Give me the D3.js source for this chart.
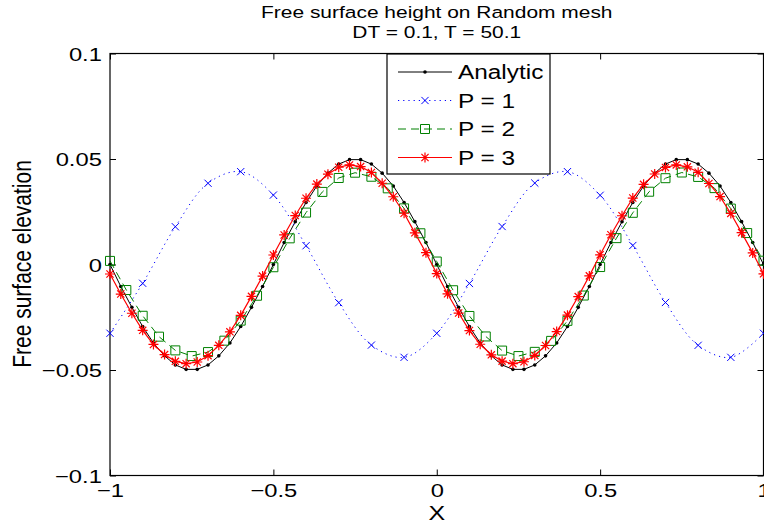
<!DOCTYPE html>
<html>
<head>
<meta charset="utf-8">
<script src="https://cdn.jsdelivr.net/npm/d3@7"></script>
<style>
  body { margin: 0; background: #fff; }
  text { font-family: "Liberation Sans", Arial, Helvetica, sans-serif; fill: #000; }
</style>
</head>
<body>
<div id="chart"></div>
<script>
// mesh points and values
var xAnalytic = [-1, -0.967, -0.933, -0.9, -0.867, -0.833, -0.8, -0.767, -0.733, -0.7,
    -0.667, -0.633, -0.6, -0.567, -0.533, -0.5, -0.467, -0.433, -0.4, -0.367,
    -0.333, -0.3, -0.267, -0.233, -0.2, -0.167, -0.133, -0.1, -0.067, -0.033,
    0, 0.033, 0.067, 0.1, 0.133, 0.167, 0.2, 0.233, 0.267, 0.3,
    0.333, 0.367, 0.4, 0.433, 0.467, 0.5, 0.533, 0.567, 0.6, 0.633,
    0.667, 0.7, 0.733, 0.767, 0.8, 0.833, 0.867, 0.9, 0.933, 0.967, 1];
var yAnalytic = [0, -0.0104, -0.0203, -0.0294, -0.0372, -0.0433, -0.0476, -0.0497, -0.0497, -0.0476,
    -0.0433, -0.0372, -0.0294, -0.0203, -0.0104, 0, 0.0104, 0.0203, 0.0294, 0.0372,
    0.0433, 0.0476, 0.0497, 0.0497, 0.0476, 0.0433, 0.0372, 0.0294, 0.0203, 0.0104,
    0, -0.0104, -0.0203, -0.0294, -0.0372, -0.0433, -0.0476, -0.0497, -0.0497, -0.0476,
    -0.0433, -0.0372, -0.0294, -0.0203, -0.0104, 0, 0.0104, 0.0203, 0.0294, 0.0372,
    0.0433, 0.0476, 0.0497, 0.0497, 0.0476, 0.0433, 0.0372, 0.0294, 0.0203, 0.0104, 0];

var xP1 = [-1, -0.9, -0.8, -0.7, -0.6, -0.5, -0.4, -0.3, -0.2, -0.1,
    0, 0.1, 0.2, 0.3, 0.4, 0.5, 0.6, 0.7, 0.8, 0.9, 1];
var yP1 = [-0.0326, -0.0089, 0.0179, 0.0385, 0.0440, 0.0329, 0.0089, -0.0181, -0.0382, -0.0440,
    -0.0326, -0.0090, 0.0180, 0.0386, 0.0440, 0.0328, 0.0090, -0.0180, -0.0383, -0.0440, -0.0326];

var xP2 = [-1, -0.95, -0.9, -0.85, -0.8, -0.75, -0.7, -0.65, -0.6, -0.55,
    -0.5, -0.45, -0.4, -0.35, -0.3, -0.25, -0.2, -0.15, -0.1, -0.05,
    0, 0.05, 0.1, 0.15, 0.2, 0.25, 0.3, 0.35, 0.4, 0.45,
    0.5, 0.55, 0.6, 0.65, 0.7, 0.75, 0.8, 0.85, 0.9, 0.95, 1];
var yP2 = [0.0017, -0.0121, -0.0243, -0.0342, -0.0407, -0.0434, -0.0415, -0.0361, -0.0266, -0.0148,
    -0.0013, 0.0124, 0.0246, 0.0344, 0.0410, 0.0435, 0.0416, 0.0361, 0.0266, 0.0148,
    0.0014, -0.0122, -0.0244, -0.0341, -0.0408, -0.0434, -0.0414, -0.0362, -0.0267, -0.0147,
    -0.0012, 0.0125, 0.0245, 0.0345, 0.0409, 0.0436, 0.0415, 0.0362, 0.0265, 0.0149, 0.0018];

var xP3 = xAnalytic;
var yP3 = [-0.0045, -0.0140, -0.0231, -0.0312, -0.0379, -0.0427, -0.0459, -0.0470, -0.0462, -0.0432,
    -0.0383, -0.0319, -0.0241, -0.0151, -0.0055, 0.0045, 0.0140, 0.0232, 0.0314, 0.0381,
    0.0428, 0.0461, 0.0472, 0.0464, 0.0436, 0.0385, 0.0321, 0.0243, 0.0150, 0.0056,
    -0.0043, -0.0139, -0.0230, -0.0313, -0.0378, -0.0428, -0.0458, -0.0470, -0.0461, -0.0431,
    -0.0384, -0.0318, -0.0240, -0.0152, -0.0054, 0.0046, 0.0141, 0.0231, 0.0315, 0.0380,
    0.0429, 0.0460, 0.0472, 0.0463, 0.0437, 0.0384, 0.0322, 0.0242, 0.0151, 0.0055, -0.0044];

var seriesNames = ['Analytic', 'P = 1', 'P = 2', 'P = 3'];
var xTicks = [-1, -0.5, 0, 0.5, 1],
    xTickLabels = ['\u22121', '\u22120.5', '0', '0.5', '1'];
var yTicks = [-0.1, -0.05, 0, 0.05, 0.1],
    yTickLabels = ['\u22120.1', '\u22120.05', '0', '0.05', '0.1'];
var titleLines = ['Free surface height on Random mesh', 'DT = 0.1, T = 50.1'];

var width = 764,
    height = 526;
var plotLeft = 110, plotRight = 763.5, plotTop = 53.5, plotBottom = 475.5;
var SX = 1.25;   // the picture is stretched sideways, so is its text

var svg = d3.select('#chart').append('svg')
    .attr('width', width)
    .attr('height', height);

var x = d3.scaleLinear().domain([-1, 1]).range([plotLeft, plotRight]);
var y = d3.scaleLinear().domain([-0.1, 0.1]).range([plotBottom, plotTop]);

function label(g, px, py, str, size, anchor, sx) {
    return g.append('text')
        .attr('transform', 'translate(' + px + ',' + py + ') scale(' + (sx || SX) + ',1)')
        .attr('text-anchor', anchor)
        .attr('font-size', size)
        .text(str);
}

// title
label(svg, (plotLeft + plotRight) / 2, 18.3, titleLines[0], 16.5, 'middle', 1.27);
label(svg, (plotLeft + plotRight) / 2, 37.7, titleLines[1], 16.5, 'middle', 1.27);

// ticks on all four sides, pointing in
function styleAxis(g) {
    g.select('.domain').remove();
    g.selectAll('.tick line').attr('stroke', '#000').attr('stroke-width', 1);
    g.attr('font-family', null).attr('font-size', null);
}

svg.append('g')
    .attr('transform', 'translate(0,' + plotBottom + ')')
    .call(d3.axisBottom(x).tickValues(xTicks).tickSize(-6)
        .tickFormat(function (d, i) { return xTickLabels[i]; }))
    .call(styleAxis)
    .selectAll('.tick text')
    .attr('y', 22).attr('dy', 0)
    .attr('font-size', 19)
    .attr('transform', 'scale(' + SX + ',1)');

svg.append('g')
    .attr('transform', 'translate(0,' + plotTop + ')')
    .call(d3.axisTop(x).tickValues(xTicks).tickSize(-6).tickFormat(''))
    .call(styleAxis);

svg.append('g')
    .attr('transform', 'translate(' + plotLeft + ',0)')
    .call(d3.axisLeft(y).tickValues(yTicks).tickSize(-6)
        .tickFormat(function (d, i) { return yTickLabels[i]; }))
    .call(styleAxis)
    .selectAll('.tick text')
    .attr('x', -6.5).attr('dy', '0.36em')
    .attr('font-size', 19)
    .attr('transform', 'scale(' + SX + ',1)');

svg.append('g')
    .attr('transform', 'translate(' + plotRight + ',0)')
    .call(d3.axisRight(y).tickValues(yTicks).tickSize(-6).tickFormat(''))
    .call(styleAxis);

// axes box
svg.append('rect')
    .attr('x', plotLeft).attr('y', plotTop)
    .attr('width', plotRight - plotLeft).attr('height', plotBottom - plotTop)
    .attr('fill', 'none')
    .attr('stroke', '#000')
    .attr('stroke-width', 1.2);

// axis labels
label(svg, (plotLeft + plotRight) / 2, 520, 'X', 20, 'middle');
svg.append('text')
    .attr('transform', 'translate(31,264) scale(1.2,1) rotate(-90)')
    .attr('text-anchor', 'middle')
    .attr('font-size', 21)
    .text('Free surface elevation');

// markers
function markerPath(kind, r) {
    if (kind === 'x') return 'M' + -r + ',' + -r + 'L' + r + ',' + r + 'M' + -r + ',' + r + 'L' + r + ',' + -r;
    if (kind === 'square') return 'M' + -r + ',' + -r + 'H' + r + 'V' + r + 'H' + -r + 'Z';
    var d = r * 0.72;
    return 'M' + -r + ',0H' + r + 'M0,' + -r + 'V' + r +
        'M' + -d + ',' + -d + 'L' + d + ',' + d + 'M' + -d + ',' + d + 'L' + d + ',' + -d;
}

var styles = [
    {color: '#000000', dash: null, curve: d3.curveLinear, marker: 'dot', r: 1.8, width: 1},
    {color: '#0000ff', dash: '1.2,4', curve: d3.curveCatmullRom, marker: 'x', r: 3.6, width: 1},
    {color: '#008000', dash: '8,5', curve: d3.curveLinear, marker: 'square', r: 4.5, width: 1},
    {color: '#ff0000', dash: null, curve: d3.curveLinear, marker: 'star', r: 5, width: 1.2}
];
var series = [
    {xs: xAnalytic, ys: yAnalytic},
    {xs: xP1, ys: yP1},
    {xs: xP2, ys: yP2},
    {xs: xP3, ys: yP3}
];

function drawMarkers(g, pts, st) {
    if (st.marker === 'dot') {
        g.selectAll('circle').data(pts).enter().append('circle')
            .attr('cx', function (d) { return d[0]; })
            .attr('cy', function (d) { return d[1]; })
            .attr('r', st.r)
            .attr('fill', st.color);
    } else {
        g.selectAll('path.mk').data(pts).enter().append('path')
            .attr('class', 'mk')
            .attr('transform', function (d) { return 'translate(' + d[0] + ',' + d[1] + ')'; })
            .attr('d', markerPath(st.marker, st.r))
            .attr('fill', 'none')
            .attr('stroke', st.color)
            .attr('stroke-width', st.width);
    }
}

series.forEach(function (s, i) {
    var st = styles[i];
    var pts = s.xs.map(function (v, j) { return [x(v), y(s.ys[j])]; });
    var g = svg.append('g');
    g.append('path')
        .attr('d', d3.line().curve(st.curve)(pts))
        .attr('fill', 'none')
        .attr('stroke', st.color)
        .attr('stroke-width', st.width)
        .attr('stroke-dasharray', st.dash);
    drawMarkers(g, pts, st);
});

// legend
var lg = svg.append('g');
lg.append('rect')
    .attr('x', 387).attr('y', 54)
    .attr('width', 163).attr('height', 120)
    .attr('fill', '#fff')
    .attr('stroke', '#000')
    .attr('stroke-width', 1.2);

seriesNames.forEach(function (name, i) {
    var st = styles[i],
        ly = 72 + i * 28.5;
    lg.append('line')
        .attr('x1', 398).attr('x2', 452)
        .attr('y1', ly).attr('y2', ly)
        .attr('stroke', st.color)
        .attr('stroke-width', st.width)
        .attr('stroke-dasharray', st.dash);
    drawMarkers(lg.append('g'), [[425, ly]], st);
    label(lg, 458, ly + 7, name, 19.5, 'start');
});
</script>
</body>
</html>
